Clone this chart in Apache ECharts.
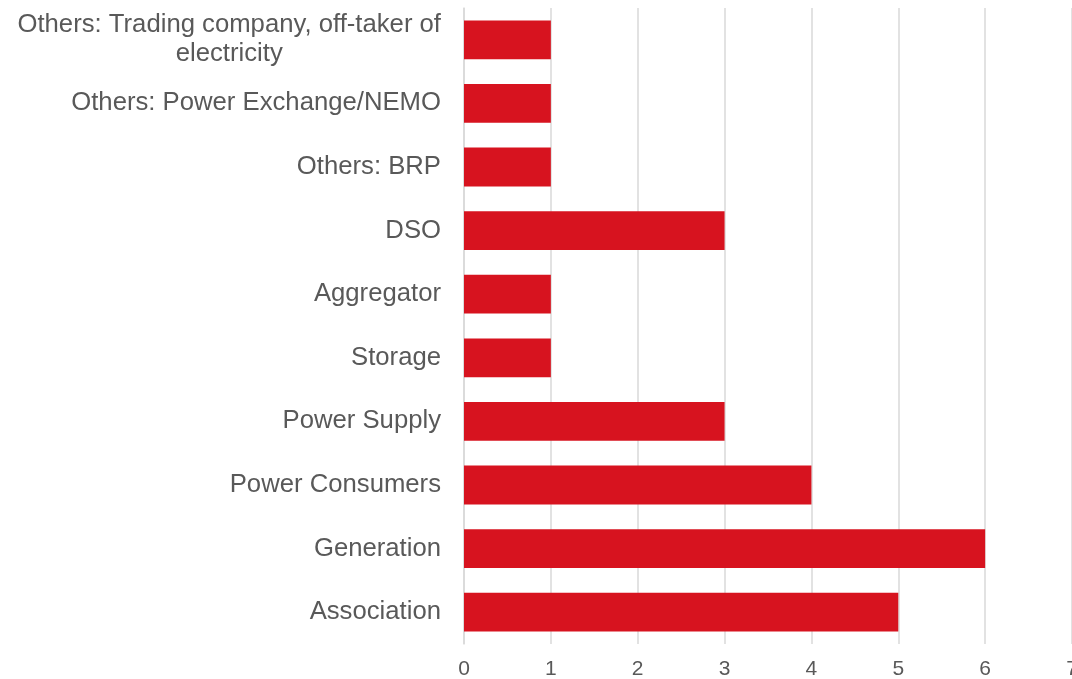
<!DOCTYPE html>
<html><head><meta charset="utf-8">
<script src="https://cdn.jsdelivr.net/npm/echarts@6/dist/echarts.min.js"></script>
<style>html,body{margin:0;padding:0;background:#fff}#c{width:1072px;height:679px}</style>
</head><body><div id="c"></div>
<script>
const categories = ["Association","Generation","Power Consumers","Power Supply","Storage","Aggregator","DSO","Others: BRP","Others: Power Exchange/NEMO","Others: Trading company, off-taker of\nelectricity"];
const values = [5,6,4,3,1,1,3,1,1,1];
const xTicks = [0,1,2,3,4,5,6,7];
const FF = 'Arial, "Liberation Sans", sans-serif';
const chart = echarts.init(document.getElementById('c'));
chart.setOption({
  animation:false,
  grid:{left:464,right:0,top:8,bottom:35,containLabel:false,outerBoundsMode:'none'},
  xAxis:{type:'value',min:xTicks[0],max:xTicks[xTicks.length-1],interval:1,
    axisLine:{show:false},axisTick:{show:false},
    splitLine:{show:true,lineStyle:{color:'#d9d9d9',width:1.5}},
    axisLabel:{color:'#595959',fontSize:21,fontFamily:FF,margin:15}},
  yAxis:{type:'category',data:categories,
    axisLine:{show:true,lineStyle:{color:'#d9d9d9',width:1.5}},axisTick:{show:false},
    axisLabel:{color:'#595959',fontSize:25.7,fontFamily:FF,margin:23,lineHeight:29,
      formatter:function(v){ if(v.indexOf('\n')>=0){ return v.split('\n').map(s=>'{c|'+s+'}').join('\n'); } return v; },
      rich:{c:{align:'center',fontSize:25.7,lineHeight:29,color:'#595959',fontFamily:FF}}}},
  series:[{type:'bar',data:values,barCategoryGap:'39%',itemStyle:{color:'#d7131f'}}]
});
</script></body></html>
